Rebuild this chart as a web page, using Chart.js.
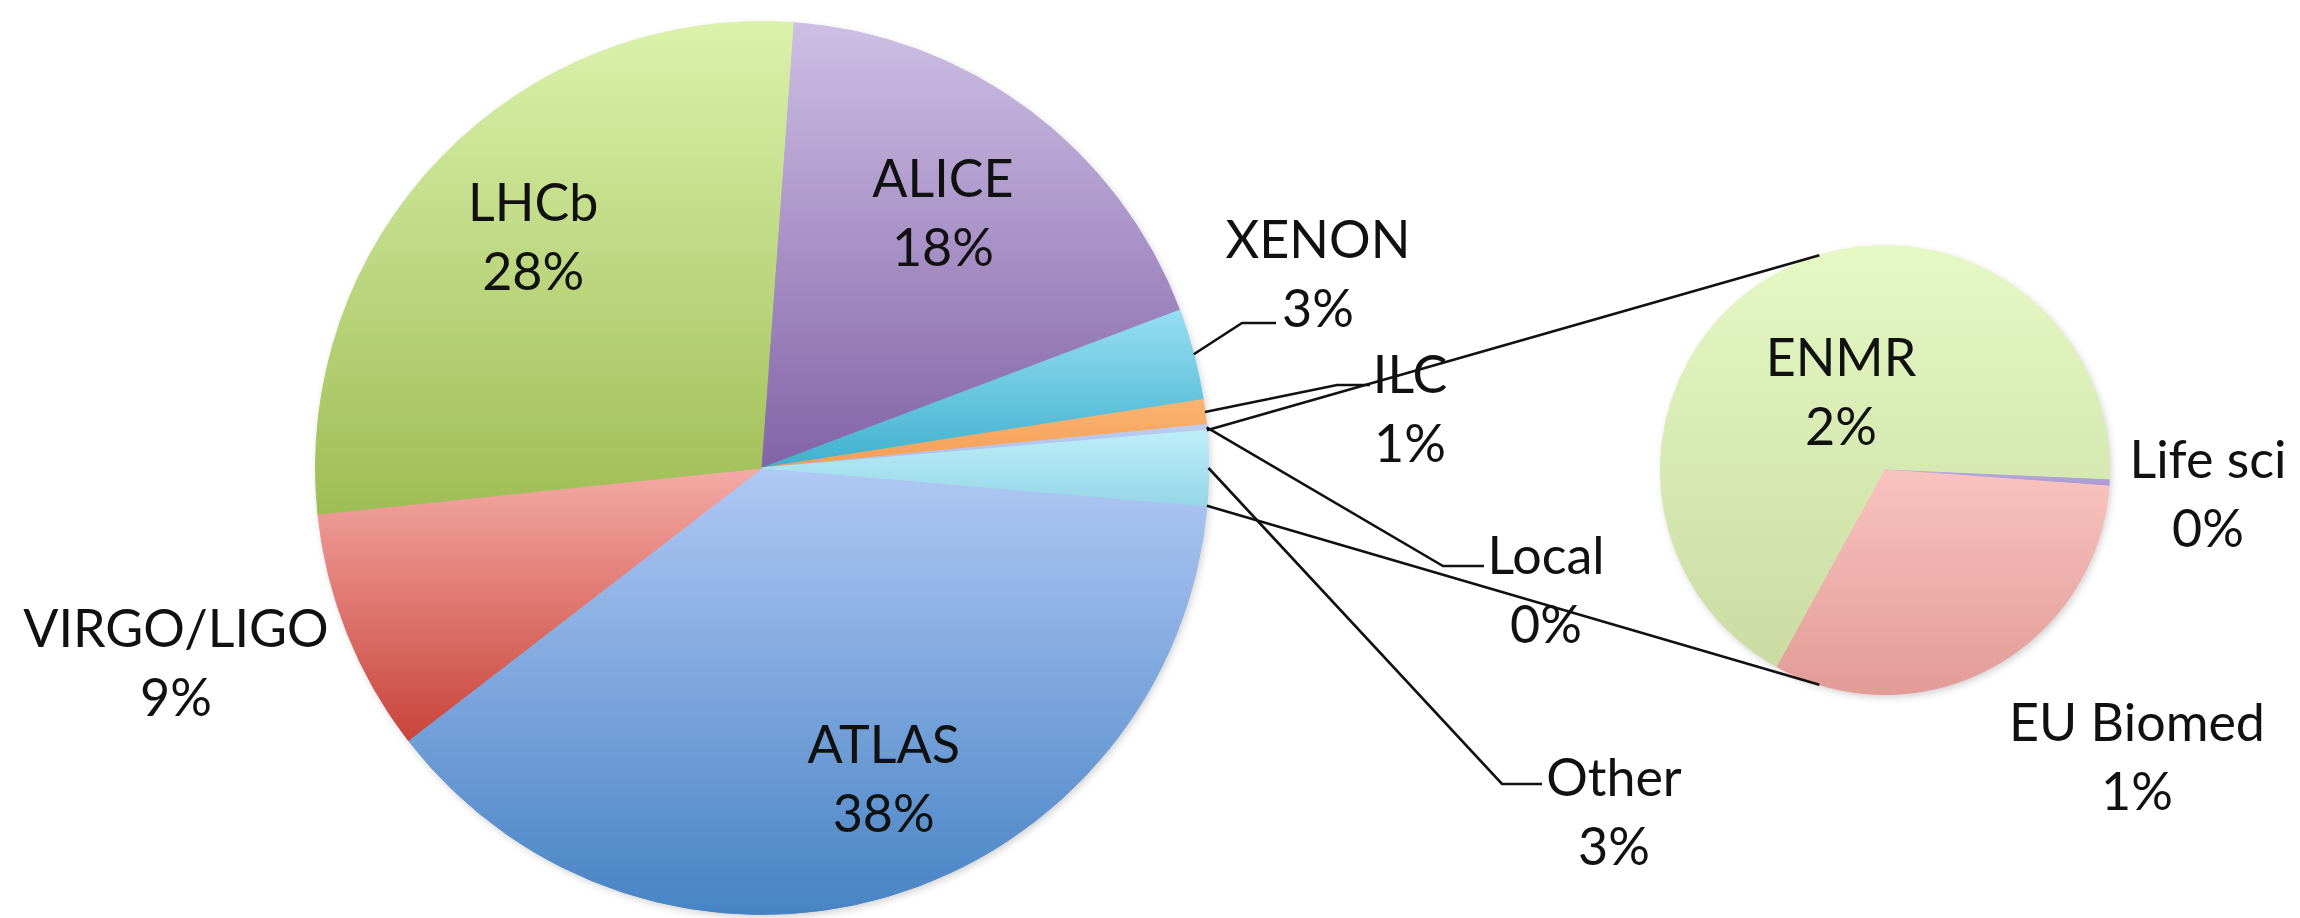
<!DOCTYPE html>
<html>
<head>
<meta charset="utf-8">
<script src="https://cdn.jsdelivr.net/npm/chart.js@4.4.1/dist/chart.umd.min.js"></script>
<style>
  html, body { margin: 0; padding: 0; background: #fff; }
  #wrap { position: relative; width: 2300px; height: 918px; }
  #wrap canvas { position: absolute; left: 0; top: 0; }
</style>
</head>
<body>
<div id="wrap">
  <canvas id="mainPie" width="2300" height="918"></canvas>
  <canvas id="subPie" width="2300" height="918"></canvas>
</div>
<script>
// main pie, clockwise from the bottom edge of the "Other" slice
const mainLabels = ['ATLAS', 'VIRGO/LIGO', 'LHCb', 'ALICE', 'XENON', 'ILC', 'Local', 'Other'];
const mainValues = [38.2, 8.8, 27.8, 18.1, 3.3, 0.9, 0.2, 2.7];

// second pie = breakdown of "Other"
const subLabels = ['ENMR', 'Life sci', 'EU Biomed'];
const subValues = [1.83, 0.012, 0.86];

// slice gradients (top -> bottom)
const mainTop    = ['#b0c8f4', '#f4aaa5', '#dbf2ac', '#cdbfe4', '#96def3', '#fbb472', '#bccdf2', '#bdeef9'];
const mainBottom = ['#4783c4', '#c8443a', '#9fbd55', '#8363a8', '#3fb0cd', '#f59e55', '#a9bce9', '#96d6e6'];
const subTop     = ['#e6f8c4', '#b9aadb', '#f9c3bf'];
const subBottom  = ['#cadca2', '#a898d0', '#e29b96'];

const mainTotal = mainValues.reduce((a, b) => a + b, 0);
const pct = v => Math.round(v / mainTotal * 100) + '%';

const textFont = '52px Lato';
const lineGap = 69;

// label placement (cap-center of first line)
const mainPlace = {
  'ATLAS':      { inside: 0.72, dx: 31, dy: 2 },
  'VIRGO/LIGO': { x: 176, y: 628 },
  'LHCb':       { inside: 0.72, dx: 2, dy: -8 },
  'ALICE':      { inside: 0.70, dx: -6, dy: -5 },
  'XENON':      { x: 1318, y: 239, elbow: [1242, 323], stub: [1276, 323] },
  'ILC':        { x: 1410, y: 374, elbow: [1337, 385], stub: [1370, 385] },
  'Local':      { x: 1546, y: 555, elbow: [1443, 566], stub: [1484, 566] },
  'Other':      { x: 1614, y: 777, elbow: [1502, 784], stub: [1542, 784] }
};
const subPlace = {
  'ENMR':      { inside: 0.40 },
  'Life sci':  { x: 2208, y: 459 },
  'EU Biomed': { x: 2137, y: 722 }
};

const rad = d => d * Math.PI / 180;

// vertical gradient over the slice's own height
function sliceFill(c, tops, bottoms) {
  const chart = c.chart, area = chart.chartArea, i = c.dataIndex;
  if (!area) return bottoms[i];
  const data = c.dataset.data;
  const total = data.reduce((a, b) => a + b, 0);
  const cx = (area.left + area.right) / 2, cy = (area.top + area.bottom) / 2;
  const r = Math.min(area.right - area.left, area.bottom - area.top) / 2;
  let a0 = chart.options.rotation;
  for (let k = 0; k < i; k++) a0 += 360 * data[k] / total;
  const a1 = a0 + 360 * data[i] / total;
  const ys = [cy, cy - r * Math.cos(rad(a0)), cy - r * Math.cos(rad(a1))];
  for (let k = 0; k <= 900; k += 180) {
    if (a0 < k && k < a1) ys.push(cy - r * Math.cos(rad(k)));
  }
  const y0 = Math.min(...ys), y1 = Math.max(...ys);
  const g = chart.ctx.createLinearGradient(0, y0, 0, Math.max(y1, y0 + 1));
  g.addColorStop(0, tops[i]);
  g.addColorStop(1, bottoms[i]);
  return g;
}

const pieShadow = {
  id: 'pieShadow',
  beforeDatasetsDraw(chart) {
    const el = chart.getDatasetMeta(0).data[0];
    const ctx = chart.ctx;
    ctx.save();
    ctx.shadowColor = 'rgba(0,0,0,0.22)';
    ctx.shadowBlur = 9;
    ctx.shadowOffsetX = 2;
    ctx.shadowOffsetY = 3;
    ctx.beginPath();
    ctx.arc(el.x, el.y, el.outerRadius - 1, 0, Math.PI * 2);
    ctx.fillStyle = '#fff';
    ctx.fill();
    ctx.restore();
  }
};

function edgePoint(el, a) {
  return [el.x + el.outerRadius * Math.cos(a), el.y + el.outerRadius * Math.sin(a)];
}

function drawLabels(chart, place) {
  const ctx = chart.ctx;
  const meta = chart.getDatasetMeta(0);
  const labels = chart.data.labels;
  const values = chart.data.datasets[0].data;
  ctx.save();
  ctx.font = textFont;
  ctx.fillStyle = '#111';
  ctx.strokeStyle = '#111';
  ctx.lineWidth = 2.6;
  ctx.textAlign = 'center';
  ctx.textBaseline = 'alphabetic';
  meta.data.forEach((el, i) => {
    const p = place[labels[i]];
    if (!p) return;
    let x, y;
    const mid = (el.startAngle + el.endAngle) / 2;
    if (p.inside) {
      x = el.x + el.outerRadius * p.inside * Math.cos(mid) + (p.dx || 0);
      y = el.y + el.outerRadius * p.inside * Math.sin(mid) + (p.dy || 0) - lineGap / 2;
    } else {
      x = p.x; y = p.y;
    }
    if (p.elbow) {
      const s = edgePoint(el, mid);
      ctx.beginPath();
      ctx.moveTo(s[0], s[1]);
      ctx.lineTo(p.elbow[0], p.elbow[1]);
      ctx.lineTo(p.stub[0], p.stub[1]);
      ctx.stroke();
    }
    ctx.fillText(labels[i], x, y + 19);
    ctx.fillText(pct(values[i]), x, y + lineGap + 19);
  });
  ctx.restore();
}

const mainLabelPlugin = { id: 'mainLabels', afterDatasetsDraw(chart) { drawLabels(chart, mainPlace); } };

let mainChart;

const subLabelPlugin = {
  id: 'subLabels',
  afterDatasetsDraw(chart) {
    drawLabels(chart, subPlace);
    // connector lines from the "Other" slice to the second pie
    const other = mainChart.getDatasetMeta(0).data[mainValues.length - 1];
    const sub = chart.getDatasetMeta(0).data[0];
    const p1 = edgePoint(other, other.startAngle);
    const p2 = edgePoint(other, other.endAngle);
    const q1 = [sub.x + sub.outerRadius * Math.sin(rad(-17)), sub.y - sub.outerRadius * Math.cos(rad(-17))];
    const q2 = [sub.x + sub.outerRadius * Math.sin(rad(197)), sub.y - sub.outerRadius * Math.cos(rad(197))];
    const ctx = chart.ctx;
    ctx.save();
    ctx.strokeStyle = '#111';
    ctx.lineWidth = 2.6;
    ctx.beginPath();
    ctx.moveTo(p1[0], p1[1]); ctx.lineTo(q1[0], q1[1]);
    ctx.moveTo(p2[0], p2[1]); ctx.lineTo(q2[0], q2[1]);
    ctx.stroke();
    ctx.restore();
  }
};

const baseOptions = {
  responsive: false,
  animation: false,
  events: [],
  plugins: { legend: { display: false }, tooltip: { enabled: false } }
};

mainChart = new Chart(document.getElementById('mainPie'), {
  type: 'pie',
  data: {
    labels: mainLabels,
    datasets: [{
      data: mainValues,
      backgroundColor: c => sliceFill(c, mainTop, mainBottom),
      borderColor: c => sliceFill(c, mainTop, mainBottom),
      borderWidth: 1
    }]
  },
  options: {
    ...baseOptions,
    // centre the "Other" slice at 3 o'clock
    rotation: 90 + 180 * mainValues[mainValues.length - 1] / mainTotal,
    layout: { padding: { left: 315, top: 21, right: 1091, bottom: 3 } }
  },
  plugins: [pieShadow, mainLabelPlugin]
});

new Chart(document.getElementById('subPie'), {
  type: 'pie',
  data: {
    labels: subLabels,
    datasets: [{
      data: subValues,
      backgroundColor: c => sliceFill(c, subTop, subBottom),
      borderColor: c => sliceFill(c, subTop, subBottom),
      borderWidth: 1
    }]
  },
  options: {
    ...baseOptions,
    rotation: 208.7,
    layout: { padding: { left: 1660, top: 245, right: 190, bottom: 223 } }
  },
  plugins: [pieShadow, subLabelPlugin]
});
</script>
</body>
</html>
